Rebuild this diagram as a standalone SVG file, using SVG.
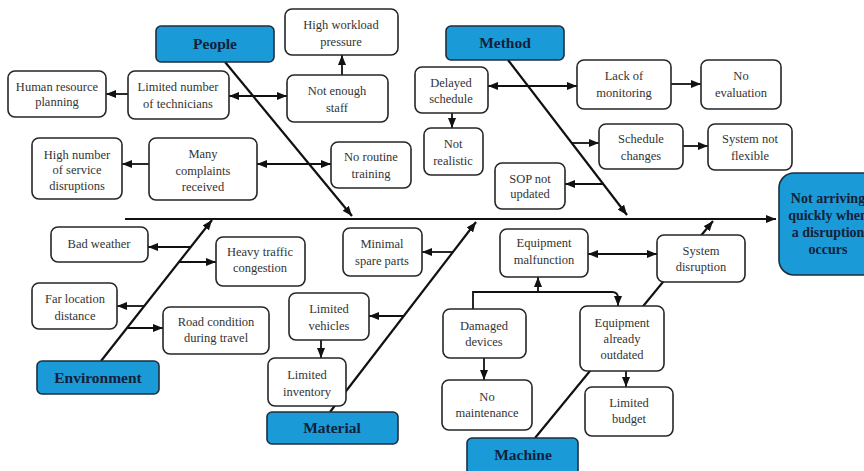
<svg xmlns="http://www.w3.org/2000/svg" width="864" height="471" viewBox="0 0 864 471" font-family="'Liberation Serif', 'DejaVu Serif', serif">
  <defs>
    <marker id="arr" viewBox="0 0 10 8" refX="10" refY="4" markerWidth="10" markerHeight="8" markerUnits="userSpaceOnUse" orient="auto-start-reverse">
      <path d="M0,0 L10,4 L0,8 z" fill="#111"/>
    </marker>
    <style>
      .box { fill: #fff; stroke: #262626; stroke-width: 1.6; }
      .cat { fill: #1b9ad8; stroke: #1f2d3d; stroke-width: 1.6; }
      text { font-family: 'Liberation Serif', 'DejaVu Serif', serif; }
      .t { font-size: 12.5px; fill: #333; text-anchor: middle; }
      .ct { font-size: 15.5px; font-weight: bold; fill: #13213a; text-anchor: middle; }
      .ht { font-size: 14px; font-weight: bold; fill: #13213a; text-anchor: middle; }
      .ln { fill: none; stroke: #111; stroke-width: 1.8; }
      .bone { fill: none; stroke: #111; stroke-width: 2.2; }
      .a { marker-end: url(#arr); }
      .aa { marker-start: url(#arr); marker-end: url(#arr); }
    </style>
  </defs>
  <rect width="864" height="471" fill="#fff"/>

  <!-- spine, bones and branch arrows -->
  <g id="connectors">
    <path class="bone a" d="M125,219 H776"/>
    <path class="bone a" d="M225,62 L352,216"/>
    <path class="bone a" d="M508,60 L627,215"/>
    <path class="bone a" d="M101,361 L212,220"/>
    <path class="bone a" d="M330,412 L476,222"/>
    <path class="bone a" d="M535,438 L713,221"/>

    <!-- People -->
    <path class="ln a" d="M342,75 V55"/>
    <path class="ln aa" d="M229,96 H287"/>
    <path class="ln a" d="M128,94 H106"/>
    <path class="ln a" d="M149,164 H122"/>
    <path class="ln aa" d="M257,164 H331"/>

    <!-- Method -->
    <path class="ln a" d="M452,113 V128"/>
    <path class="ln aa" d="M488,86 H577"/>
    <path class="ln a" d="M671,84 H701"/>
    <path class="ln a" d="M572,143 H599"/>
    <path class="ln a" d="M683,146 H708"/>
    <path class="ln a" d="M603,184 H565"/>

    <!-- Environment -->
    <path class="ln a" d="M191,247 H148"/>
    <path class="ln a" d="M179,262 H216"/>
    <path class="ln a" d="M144,306 H117"/>
    <path class="ln a" d="M127,328 H163"/>

    <!-- Material -->
    <path class="ln a" d="M453,252 H422"/>
    <path class="ln a" d="M403,316 H369"/>
    <path class="ln a" d="M321,340 V358"/>

    <!-- Machine -->
    <path class="ln aa" d="M588,254 H657"/>
    <path class="ln a" d="M484,358 V380"/>
    <path class="ln a" d="M473,309 V292 H612 Q618,292 618,298 V306"/>
    <path class="ln a" d="M538,292 V277"/>
    <path class="ln a" d="M626,371 V387"/>
  </g>

  <!-- effect -->
  <g id="head">
    <rect class="cat" x="779" y="173" width="100" height="102" rx="15"/>
    <text class="ht" x="828" y="203">Not arriving</text>
    <text class="ht" x="828" y="220">quickly when</text>
    <text class="ht" x="828" y="237">a disruption</text>
    <text class="ht" x="828" y="254">occurs</text>
  </g>

  <!-- categories -->
  <g id="cat-people"><rect class="cat" x="156" y="26" width="118" height="36" rx="5"/><text class="ct" x="215" y="49">People</text></g>
  <g id="cat-method"><rect class="cat" x="446" y="26" width="118" height="34" rx="5"/><text class="ct" x="505" y="48">Method</text></g>
  <g id="cat-environment"><rect class="cat" x="37" y="361" width="122" height="33" rx="5"/><text class="ct" x="98" y="383">Environment</text></g>
  <g id="cat-material"><rect class="cat" x="267" y="412" width="131" height="32" rx="5"/><text class="ct" x="332" y="433">Material</text></g>
  <g id="cat-machine"><rect class="cat" x="467" y="438" width="111" height="40" rx="5"/><text class="ct" x="523" y="460">Machine</text></g>

  <!-- People causes -->
  <g id="n-workload"><rect class="box" x="285" y="9" width="113" height="46" rx="7"/><text class="t" x="341" y="29">High workload</text><text class="t" x="341" y="46">pressure</text></g>
  <g id="n-staff"><rect class="box" x="287" y="75" width="101" height="47" rx="7"/><text class="t" x="337" y="95">Not enough</text><text class="t" x="337" y="112">staff</text></g>
  <g id="n-technicians"><rect class="box" x="128" y="71" width="101" height="48" rx="7"/><text class="t" x="178" y="91">Limited number</text><text class="t" x="178" y="108">of technicians</text></g>
  <g id="n-hr"><rect class="box" x="8" y="71" width="98" height="46" rx="7"/><text class="t" x="57" y="91">Human resource</text><text class="t" x="57" y="106">planning</text></g>
  <g id="n-complaints"><rect class="box" x="149" y="138" width="108" height="62" rx="7"/><text class="t" x="203" y="158">Many</text><text class="t" x="203" y="175">complaints</text><text class="t" x="203" y="191">received</text></g>
  <g id="n-disruptions"><rect class="box" x="32" y="138" width="90" height="61" rx="7"/><text class="t" x="77" y="159">High number</text><text class="t" x="77" y="174">of service</text><text class="t" x="77" y="190">disruptions</text></g>
  <g id="n-training"><rect class="box" x="331" y="142" width="80" height="46" rx="7"/><text class="t" x="371" y="161">No routine</text><text class="t" x="371" y="178">training</text></g>

  <!-- Method causes -->
  <g id="n-delayed"><rect class="box" x="415" y="67" width="73" height="46" rx="7"/><text class="t" x="451" y="87">Delayed</text><text class="t" x="451" y="103">schedule</text></g>
  <g id="n-realistic"><rect class="box" x="424" y="128" width="59" height="47" rx="7"/><text class="t" x="453" y="148">Not</text><text class="t" x="453" y="165">realistic</text></g>
  <g id="n-monitoring"><rect class="box" x="577" y="60" width="94" height="49" rx="7"/><text class="t" x="624" y="80">Lack of</text><text class="t" x="624" y="97">monitoring</text></g>
  <g id="n-evaluation"><rect class="box" x="701" y="60" width="80" height="49" rx="7"/><text class="t" x="741" y="80">No</text><text class="t" x="741" y="97">evaluation</text></g>
  <g id="n-changes"><rect class="box" x="599" y="124" width="84" height="45" rx="7"/><text class="t" x="641" y="143">Schedule</text><text class="t" x="641" y="160">changes</text></g>
  <g id="n-flexible"><rect class="box" x="708" y="124" width="84" height="46" rx="7"/><text class="t" x="750" y="143">System not</text><text class="t" x="750" y="160">flexible</text></g>
  <g id="n-sop"><rect class="box" x="495" y="163" width="70" height="46" rx="7"/><text class="t" x="530" y="183">SOP not</text><text class="t" x="530" y="198">updated</text></g>

  <!-- Environment causes -->
  <g id="n-weather"><rect class="box" x="51" y="227" width="97" height="35" rx="7"/><text class="t" x="99" y="248">Bad weather</text></g>
  <g id="n-traffic"><rect class="box" x="216" y="237" width="89" height="49" rx="7"/><text class="t" x="260" y="256">Heavy traffic</text><text class="t" x="260" y="272">congestion</text></g>
  <g id="n-location"><rect class="box" x="32" y="283" width="85" height="46" rx="7"/><text class="t" x="75" y="303">Far location</text><text class="t" x="75" y="320">distance</text></g>
  <g id="n-road"><rect class="box" x="163" y="307" width="106" height="47" rx="7"/><text class="t" x="216" y="326">Road condition</text><text class="t" x="216" y="342">during travel</text></g>

  <!-- Material causes -->
  <g id="n-spare"><rect class="box" x="343" y="228" width="79" height="48" rx="7"/><text class="t" x="382" y="248">Minimal</text><text class="t" x="382" y="265">spare parts</text></g>
  <g id="n-vehicles"><rect class="box" x="289" y="293" width="80" height="47" rx="7"/><text class="t" x="329" y="313">Limited</text><text class="t" x="329" y="330">vehicles</text></g>
  <g id="n-inventory"><rect class="box" x="268" y="358" width="78" height="48" rx="7"/><text class="t" x="307" y="379">Limited</text><text class="t" x="307" y="396">inventory</text></g>

  <!-- Machine causes -->
  <g id="n-malfunction"><rect class="box" x="500" y="229" width="88" height="48" rx="7"/><text class="t" x="544" y="247">Equipment</text><text class="t" x="544" y="264">malfunction</text></g>
  <g id="n-sysdisruption"><rect class="box" x="657" y="235" width="88" height="47" rx="7"/><text class="t" x="701" y="255">System</text><text class="t" x="701" y="271">disruption</text></g>
  <g id="n-damaged"><rect class="box" x="443" y="309" width="83" height="49" rx="7"/><text class="t" x="484" y="330">Damaged</text><text class="t" x="484" y="346">devices</text></g>
  <g id="n-maintenance"><rect class="box" x="442" y="380" width="90" height="50" rx="7"/><text class="t" x="487" y="401">No</text><text class="t" x="487" y="417">maintenance</text></g>
  <g id="n-outdated"><rect class="box" x="580" y="306" width="84" height="65" rx="7"/><text class="t" x="622" y="327">Equipment</text><text class="t" x="622" y="343">already</text><text class="t" x="622" y="359">outdated</text></g>
  <g id="n-budget"><rect class="box" x="585" y="387" width="88" height="49" rx="7"/><text class="t" x="629" y="407">Limited</text><text class="t" x="629" y="423">budget</text></g>
</svg>
